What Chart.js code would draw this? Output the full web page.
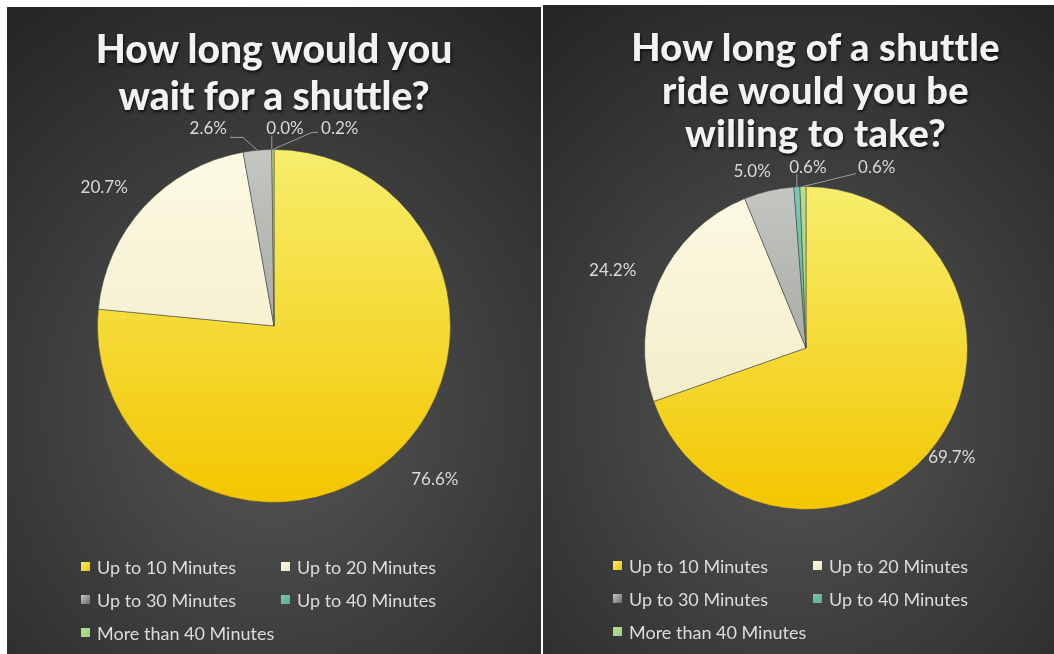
<!DOCTYPE html>
<html><head><meta charset="utf-8">
<script src="https://cdn.jsdelivr.net/npm/chart.js@4"></script>
<style>
html,body{margin:0;padding:0;background:#fff;width:1054px;height:654px;overflow:hidden;font-family:Lato,"Open Sans",sans-serif;}
.panel{position:absolute;background:radial-gradient(ellipse 80% 72% at 50% 62%, #575757 0%, #3c3c3c 55%, #272727 100%);overflow:hidden}
.panel canvas{position:absolute;left:0;top:0}
.title{position:absolute;left:0;width:100%;text-align:center;color:#f2f2f2;font-weight:900;text-shadow:1px 2px 3px rgba(0,0,0,.75)}
.legend{position:absolute;display:grid;grid-template-columns:200px 200px;grid-auto-rows:33px;color:#dcdcdc;font-size:18px}
.item{display:flex;align-items:center;white-space:nowrap}
.sw{width:9px;height:9px;margin-right:7px;flex:none}
</style></head>
<body>
<div class="panel" id="p1" style="left:7px;top:7px;width:534px;height:647px">
  <canvas id="c1" width="534" height="647"></canvas>
  <div class="title" style="top:18px;font-size:39px;line-height:47px">How long would you<br>wait for a shuttle?</div>
  <div class="legend" id="l1" style="left:74px;top:543px"></div>
</div>
<div class="panel" id="p2" style="left:543px;top:5px;width:511px;height:649px">
  <canvas id="c2" width="511" height="649"></canvas>
  <div class="title" style="left:17px;top:20px;font-size:38px;line-height:43px;letter-spacing:0.3px">How long of a shuttle<br>ride would you be<br>willing to take?</div>
  <div class="legend" id="l2" style="left:70px;top:544px"></div>
</div>
<script>
// ---- data ----
const categories = ["Up to 10 Minutes","Up to 20 Minutes","Up to 30 Minutes","Up to 40 Minutes","More than 40 Minutes"];
const waitValues = [76.6, 20.7, 2.6, 0.0, 0.2];
const rideValues = [69.7, 24.2, 5.0, 0.6, 0.6];

// ---- styles ----
const sliceTop    = ["#f7ee6c","#fcfae4","#c4c6c2","#79c9b6","#b3de8e"];
const sliceBottom = ["#f3c600","#eee7bd","#8f918d","#4f9d8c","#8cc566"];
const swatchColors = ["#e9c404","#ebe5bd","#6a6c68","#5fa898","#a2d183"];
// label placement: [angle from top (deg, clockwise), distance (x radius), leader type]
const waitPlace = [[133.7,1.26,null],[309.1,1.24,null],[341.6,1.18,'elbowR'],[3.2,1.12,'vert'],[18.4,1.18,'elbowL']];
const ridePlace = [[127,1.13,null],[291.9,1.29,null],[343,1.14,null],[0.6,1.12,'vert'],[21.4,1.2,'lineL']];

function buildLegend(id){
  const el=document.getElementById(id);
  categories.forEach((c,i)=>{
    const d=document.createElement('div');d.className='item';
    const s=document.createElement('span');s.className='sw';
    s.style.background='linear-gradient(135deg,'+sliceTop[i]+','+swatchColors[i]+')';
    d.appendChild(s);d.appendChild(document.createTextNode(c));el.appendChild(d);
  });
}
buildLegend('l1');buildLegend('l2');

const labelPlugin={
  id:'outLabels',
  afterDatasetsDraw(chart,args,opts){
    const ctx=chart.ctx, meta=chart.getDatasetMeta(0), vals=chart.data.datasets[0].data;
    ctx.save();
    ctx.font='17px Lato, "Open Sans", sans-serif';
    ctx.fillStyle='#dadada';ctx.textAlign='center';ctx.textBaseline='middle';
    ctx.strokeStyle='#9c9c9c';ctx.lineWidth=1;
    meta.data.forEach((arc,i)=>{
      const p=arc.getProps(['x','y','startAngle','endAngle','outerRadius'],true);
      const mid=(p.startAngle+p.endAngle)/2;
      const pl=opts.place[i];
      const a=(pl[0]-90)*Math.PI/180;
      const lx=p.x+Math.cos(a)*pl[1]*p.outerRadius, ly=p.y+Math.sin(a)*pl[1]*p.outerRadius;
      const text=vals[i].toFixed(1)+'%';
      const w=ctx.measureText(text).width;
      const ax=p.x+Math.cos(mid)*p.outerRadius, ay=p.y+Math.sin(mid)*p.outerRadius;
      ctx.beginPath();
      if(pl[2]==='elbowR'){ctx.moveTo(lx+w/2+3,ly+9);ctx.lineTo(lx+w/2+16,ly+9);ctx.lineTo(ax,ay);ctx.stroke();}
      else if(pl[2]==='elbowL'){ctx.moveTo(lx-w/2-3,ly+4);ctx.lineTo(lx-w/2-9,ly+4);ctx.lineTo(ax,ay);ctx.stroke();}
      else if(pl[2]==='vert'){ctx.moveTo(ax,ay);ctx.lineTo(ax,ly+7);ctx.stroke();}
      else if(pl[2]==='lineL'){ctx.moveTo(lx-w/2-2,ly+6);ctx.lineTo(ax,ay);ctx.stroke();}
      ctx.fillText(text,lx,ly);
    });
    ctx.restore();
  }
};

function makePie(id,values,place,pad){
  return new Chart(document.getElementById(id),{
    type:'pie',
    data:{labels:categories,datasets:[{data:values,
      backgroundColor:(c)=>{
        const ca=c.chart.chartArea; const i=c.dataIndex;
        if(!ca) return sliceTop[i];
        const g=c.chart.ctx.createLinearGradient(0,ca.top,0,ca.bottom);
        g.addColorStop(0,sliceTop[i]);g.addColorStop(1,sliceBottom[i]);return g;
      },
      borderColor:'rgba(70,70,60,0.55)',borderWidth:1}]},
    options:{responsive:false,animation:false,
      layout:{padding:pad},
      plugins:{legend:{display:false},title:{display:false},tooltip:{enabled:false},outLabels:{place:place}}},
    plugins:[labelPlugin]
  });
}
makePie('c1',waitValues,waitPlace,{left:90,top:142,right:90,bottom:151});
makePie('c2',rideValues,ridePlace,{left:101,top:181,right:86,bottom:144});
</script>
</body></html>
